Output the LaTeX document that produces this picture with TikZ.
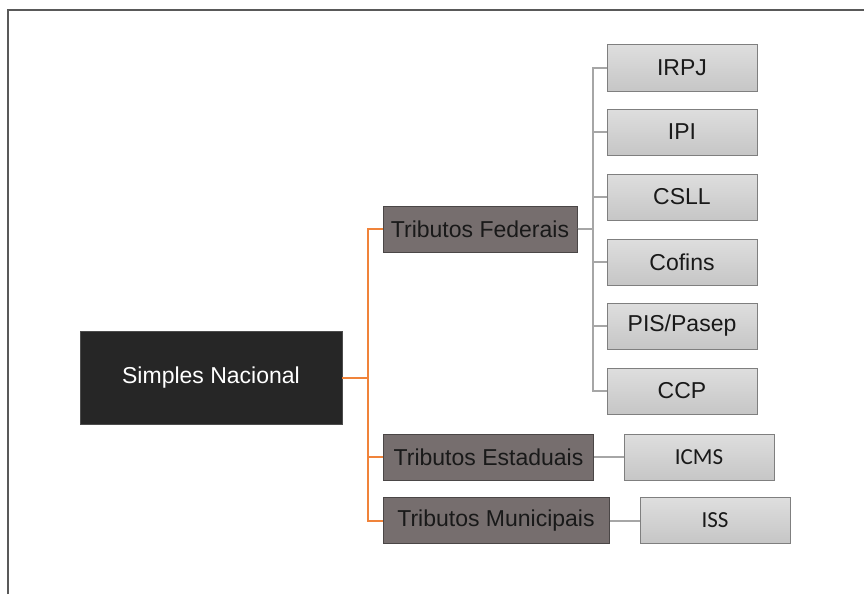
\documentclass[tikz,border=0pt]{standalone}
\usepackage{fontspec}
\setmainfont{Liberation Sans}
\newfontfamily\calibrifont{Carlito}
\usepackage{tikz}
\usetikzlibrary{positioning}
\usepackage{xcolor}
\definecolor{rootfill}{HTML}{262626}
\definecolor{groupfill}{HTML}{766E6E}
\definecolor{groupline}{HTML}{4A4646}
\definecolor{leaftop}{HTML}{DEDEDE}
\definecolor{leafbottom}{HTML}{C6C6C6}
\definecolor{leafline}{HTML}{7F7F7F}
\definecolor{orangeline}{HTML}{F0833A}
\definecolor{grayline}{HTML}{A6A6A6}
\tikzstyle{orangearrow} = [line width=2pt, orangeline]
\tikzstyle{grayarrow} = [line width=2pt, grayline]
\tikzstyle{root} = [rectangle, minimum width=262pt, minimum height=93pt, inner sep=0pt, text centered, draw=black!70, fill=rootfill, text=white, font=\fontsize{23}{27}\selectfont]
\tikzstyle{group} = [rectangle, minimum height=46pt, inner sep=0pt, text centered, draw=groupline, line width=1pt, fill=groupfill, text=black!90, font=\fontsize{23}{27}\selectfont]
\tikzstyle{leaf} = [rectangle, minimum width=150pt, minimum height=46pt, inner sep=0pt, text centered, draw=leafline, line width=1pt, top color=leaftop, bottom color=leafbottom, text=black!90, font=\fontsize{23}{27}\selectfont]

\begin{document}
\begin{tikzpicture}[x=1pt,y=-1pt]
      \useasboundingbox (0,0) rectangle (864,594);
      \draw [line width=1.5pt, black!65] (8,594) -- (8,10) -- (864,10);

      \node (simples) [root] at (211,377.5) {Simples Nacional};
      \node (federais) [group, minimum width=194pt] at (480,229) {Tributos Federais};
      \node (estaduais) [group, minimum width=210pt] at (488.5,457) {Tributos Estaduais};
      \node (municipais) [group, minimum width=226pt] at (496,520.5) {Tributos Municipais};
      \draw [orangearrow] (simples.east) -- ++(26,0) |- (federais.west);
      \draw [orangearrow] (simples.east) -- ++(26,0) |- (estaduais.west);
      \draw [orangearrow] (simples.east) -- ++(26,0) |- (municipais.west);

      \node (irpj) [leaf] at (682,68) {IRPJ};
      \node (ipi) [leaf] at (682,132) {IPI};
      \node (csll) [leaf] at (682,197) {CSLL};
      \node (cofins) [leaf] at (682,262) {Cofins};
      \node (pis) [leaf] at (682,326) {PIS/Pasep};
      \node (ccp) [leaf] at (682,391) {CCP};
      \foreach \t in {irpj,ipi,csll,cofins,pis,ccp}
        \draw [grayarrow] (federais.east) -- ++(15,0) |- (\t.west);

      \node (icms) [leaf, font=\calibrifont\fontsize{23}{27}\selectfont] at (699,457) {ICMS};
      \node (iss) [leaf, font=\calibrifont\fontsize{23}{27}\selectfont] at (715,520.5) {ISS};
      \draw [grayarrow] (estaduais) -- (icms);
      \draw [grayarrow] (municipais) -- (iss);
    \end{tikzpicture}
\end{document}
